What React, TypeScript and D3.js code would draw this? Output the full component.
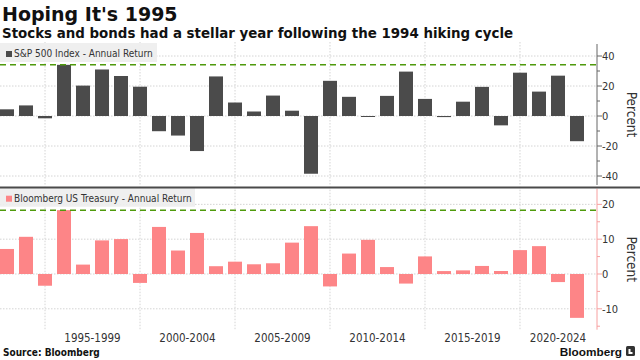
import React from "react";
import * as d3 from "d3";

const years = [1992, 1993, 1994, 1995, 1996, 1997, 1998, 1999, 2000, 2001, 2002, 2003, 2004, 2005, 2006, 2007, 2008, 2009, 2010, 2011, 2012, 2013, 2014, 2015, 2016, 2017, 2018, 2019, 2020, 2021, 2022];
const spxReturn = [4.46, 7.06, -1.54, 34.11, 20.26, 31.01, 26.67, 19.53, -10.14, -13.04, -23.37, 26.38, 8.99, 3.0, 13.62, 3.53, -38.49, 23.45, 12.78, 0.0, 13.41, 29.6, 11.39, -0.73, 9.54, 19.42, -6.24, 28.88, 16.26, 26.89, -16.8];
const treasuryReturn = [7.19, 10.68, -3.37, 18.34, 2.7, 9.65, 10.03, -2.56, 13.52, 6.74, 11.79, 2.24, 3.54, 2.79, 3.08, 9.01, 13.74, -3.57, 5.87, 9.81, 1.99, -2.75, 5.05, 0.84, 1.04, 2.31, 0.86, 6.86, 8.0, -2.32, -12.6];
const periodLabels = ["1995-1999", "2000-2004", "2005-2009", "2010-2014", "2015-2019", "2020-2024"];
const periodStarts = [1994, 1999, 2004, 2009, 2014, 2019];
const spxTicks = [40, 20, 0, -20, -40];
const spxMinorTicks = [30, 10, -10, -30];
const tsyTicks = [20, 10, 0, -10];
const tsyMinorTicks = [15, 5, -5, -15];
const spx1995 = 34.11;
const tsy1995 = 18.34;

const FONT = "'DejaVu Sans Condensed', 'DejaVu Sans', sans-serif";
const FONT_WIDE = "'DejaVu Sans', sans-serif";
const W = 640;
const H = 360;
const AXIS_X = 597;
const DARK = "#4b4b4b";
const PINK = "#fd8587";
const GREEN = "#4f9a0c";
const GRID = "#d4d4d4";

export default function App() {
  const x = d3
    .scaleBand<number>()
    .domain(years)
    .range([-9.5, 593.5])
    .paddingInner(0.263)
    .paddingOuter(0.5);
  const cx = (yr: number) => (x(yr) as number) + x.bandwidth() / 2;

  const yTop = d3.scaleLinear().domain([-46, 48]).range([185, 44]);
  const yBot = d3.scaleLinear().domain([-16, 24.5]).range([329.7, 188.7]);

  const gridXs = periodStarts.map((y) => cx(y));

  const panel = (
    y: d3.ScaleLinear<number, number>,
    values: number[],
    color: string,
    ticks: number[],
    minor: number[],
    axisColor: string,
    dashVal: number,
    legend: string,
    legendW: number,
    key: string
  ) => {
    const [y0, y1] = y.range();
    const top = Math.min(y0, y1);
    const bottom = Math.max(y0, y1);
    return (
      <g key={key}>
        {ticks.map((t) => (
          <line key={"h" + t} x1={0} x2={AXIS_X} y1={y(t)} y2={y(t)} stroke={GRID} strokeWidth={1} strokeDasharray="1.5,1.5" />
        ))}
        {gridXs.map((gx, i) => (
          <line key={"v" + i} x1={gx} x2={gx} y1={top - 2} y2={bottom + 1} stroke={GRID} strokeWidth={1} strokeDasharray="1.5,1.5" />
        ))}
        {values.map((v, i) => (
          <rect
            key={"b" + i}
            x={x(years[i])}
            width={x.bandwidth()}
            y={Math.min(y(v), y(0))}
            height={Math.max(Math.abs(y(v) - y(0)), 1)}
            fill={color}
          />
        ))}
        <line x1={0} x2={AXIS_X} y1={y(dashVal)} y2={y(dashVal)} stroke={GREEN} strokeWidth={1.5} strokeDasharray="6,4" />
        <rect x={0} y={top - 1} width={legendW} height={19} fill="#eeeeee" opacity={0.92} />
        <rect x={6} y={top + 7} width={6} height={6} fill={color} />
        <text x={14} y={top + 13} fontFamily={FONT} fontStretch="condensed" fontSize={10} fill="#333">
          {legend}
        </text>
        <line x1={AXIS_X} x2={AXIS_X} y1={top} y2={bottom} stroke={axisColor} strokeWidth={1} />
        {ticks.map((t) => (
          <g key={"t" + t}>
            <line x1={AXIS_X} x2={AXIS_X + 5} y1={y(t)} y2={y(t)} stroke={axisColor} />
            <text x={AXIS_X + 5} y={y(t)} dy="0.36em" fontFamily={FONT} fontStretch="condensed" fontSize={11} fill="#333">
              {t < 0 ? "-" + Math.abs(t) : String(t)}
            </text>
          </g>
        ))}
        {minor.map((t) => (
          <line key={"m" + t} x1={AXIS_X} x2={AXIS_X + 3} y1={y(t)} y2={y(t)} stroke={axisColor} />
        ))}
        <text
          transform={`translate(627,${(top + bottom) / 2}) rotate(90)`}
          textAnchor="middle"
          fontFamily={FONT}
          fontStretch="condensed"
          fontSize={13.5}
          fill="#333"
        >
          Percent
        </text>
      </g>
    );
  };

  const labelY = 342;
  const step = x.step();

  return (
    <svg width={W} height={H} style={{ position: "absolute", left: 0, top: 0, background: "#fff" }}>
      <rect width={W} height={H} fill="#fff" />
      <text x={2} y={21} fontFamily={FONT_WIDE} fontWeight="bold" fontSize={19} fill="#111">
        Hoping It's 1995
      </text>
      <text x={2} y={38} fontFamily={FONT_WIDE} fontWeight="bold" fontSize={13.4} fill="#111">
        Stocks and bonds had a stellar year following the 1994 hiking cycle
      </text>
      {panel(yTop, spxReturn, DARK, spxTicks, spxMinorTicks, "#666", spx1995, "S&P 500 Index - Annual Return", 157, "top")}
      {panel(yBot, treasuryReturn, PINK, tsyTicks, tsyMinorTicks, "#f7a0a0", tsy1995, "Bloomberg US Treasury - Annual Return", 195, "bot")}
      <line x1={0} x2={W} y1={187.5} y2={187.5} stroke="#4a4a4a" strokeWidth={2} />
      {periodLabels.map((lab, i) => {
        const mid = gridXs[i] + step * 2.5;
        const px = Math.min(mid, AXIS_X - 39);
        return (
          <text key={lab} x={px} y={labelY} textAnchor="middle" fontFamily={FONT} fontStretch="condensed" fontSize={11.5} fill="#333">
            {lab}
          </text>
        );
      })}
      <text x={3} y={356} fontFamily={FONT} fontStretch="condensed" fontWeight="bold" fontSize={10} fill="#111">
        Source: Bloomberg
      </text>
      <text x={622} y={356} textAnchor="end" fontFamily="'Liberation Sans', Arial, sans-serif" fontWeight="bold" fontSize={11.8} fill="#111">
        Bloomberg
      </text>
      <rect x={626} y={346} width={9} height={10} rx={1.5} fill="#333" />
      <path d="M628.5,349 h2 v3 h2 v2 h-4 z" fill="#fff" />
    </svg>
  );
}
